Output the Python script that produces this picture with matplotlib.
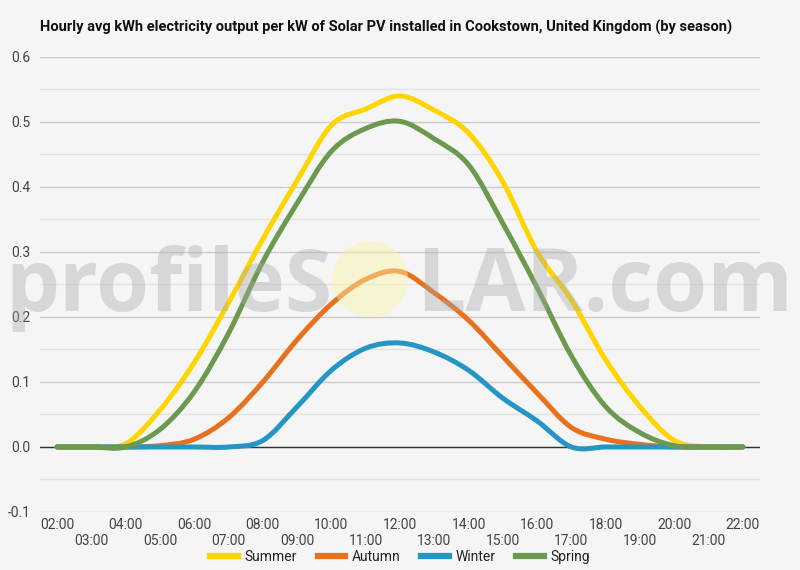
import numpy as np
import matplotlib
matplotlib.use('Agg')
import matplotlib.pyplot as plt
from matplotlib.path import Path
from matplotlib.patches import PathPatch, Ellipse
from matplotlib.lines import Line2D

hours = ['%02d:00' % h for h in range(2, 23)]
summer = [0, 0, 0.005, 0.057, 0.13, 0.222, 0.32, 0.41, 0.495, 0.52, 0.54,
          0.518, 0.483, 0.408, 0.30, 0.226, 0.134, 0.062, 0.01, 0, 0]
autumn = [0, 0, 0, 0.002, 0.012, 0.045, 0.10, 0.165, 0.22, 0.258, 0.27,
          0.237, 0.195, 0.139, 0.083, 0.03, 0.012, 0.004, 0, 0, 0]
winter = [0, 0, 0, 0, 0, 0, 0.01, 0.062, 0.118, 0.152, 0.16,
          0.146, 0.118, 0.075, 0.04, 0, 0, 0, 0, 0, 0]
spring = [0, 0, 0, 0.027, 0.085, 0.175, 0.285, 0.375, 0.455, 0.49, 0.501,
          0.474, 0.434, 0.344, 0.245, 0.14, 0.062, 0.022, 0.002, 0, 0]
series = [('Summer', summer, '#ffd500'), ('Autumn', autumn, '#e8711e'),
          ('Winter', winter, '#2496c6'), ('Spring', spring, '#6b9a4f')]

plt.rcParams['font.family'] = ['Roboto', 'DejaVu Sans']
bg = '#f5f5f5'


def smooth_path(x, y):
    # catmull-rom curve through the points, as a bezier path
    p = np.column_stack([x, y]).astype(float)
    n = len(p)
    verts = [p[0]]
    codes = [Path.MOVETO]
    for i in range(n - 1):
        p0 = p[max(i - 1, 0)]
        p3 = p[min(i + 2, n - 1)]
        c1 = p[i] + (p[i + 1] - p0) / 6
        c2 = p[i + 1] - (p3 - p[i]) / 6
        verts += [c1, c2, p[i + 1]]
        codes += [Path.CURVE4] * 3
    return Path(verts, codes)


fig = plt.figure(figsize=(8, 5.7), dpi=100, facecolor=bg)
ax = fig.add_axes([0.05, 0.1018, 0.9, 0.7982])
ax.set_facecolor(bg)

x = np.arange(len(hours))
for name, vals, col in series:
    ax.add_patch(PathPatch(smooth_path(x, vals), fill=False, edgecolor=col,
                           lw=3.6, capstyle='round', joinstyle='round', zorder=3))

ax.set_xlim(-0.5, len(hours) - 0.5)
ax.set_ylim(-0.1, 0.6)
ax.set_yticks(np.arange(-0.1, 0.61, 0.1))
ax.set_yticklabels(['%.1f' % v for v in np.arange(-0.1, 0.61, 0.1)])
ax.set_yticks(np.arange(-0.05, 0.6, 0.1), minor=True)
ax.grid(axis='y', which='major', color='#cccccc', lw=1)
ax.grid(axis='y', which='minor', color='#e3e3e3', lw=1)
ax.axhline(0, color='#333333', lw=1, zorder=2)
for s in ax.spines.values():
    s.set_visible(False)

ax.set_xticks(x[::2])
ax.set_xticklabels(hours[::2])
ax.set_xticks(x[1::2], minor=True)
ax.set_xticklabels(hours[1::2], minor=True)
ax.tick_params(axis='x', which='major', length=0, pad=4, labelsize=10, labelcolor='#444444')
ax.tick_params(axis='x', which='minor', length=0, pad=16, labelsize=10, labelcolor='#444444')
ax.tick_params(axis='y', which='both', length=0, pad=7, labelsize=10, labelcolor='#444444')

fig.text(0.05, 0.951, 'Hourly avg kWh electricity output per kW of Solar PV installed in '
         'Cookstown, United Kingdom (by season)', fontsize=10.5, fontweight='bold',
         color='#111111', va='center', ha='left')

# watermark
wm_col = '#a8a8a8'
t1 = fig.text(332 / 800, 1 - 311 / 570, 'profileS', ha='right', va='baseline',
              fontsize=66, color=wm_col, alpha=0.38, family='Open Sans',
              fontweight='bold', zorder=5)
t2 = fig.text(416 / 800, 1 - 311 / 570, 'LAR.com', ha='left', va='baseline',
              fontsize=66, color=wm_col, alpha=0.38, family='Open Sans',
              fontweight='bold', zorder=5)
fig.canvas.draw()
r = fig.canvas.get_renderer()
w1 = t1.get_window_extent(r).width
w2 = t2.get_window_extent(r).width
t1.set_fontsize(66 * 327 / w1)
t2.set_fontsize(66 * 377 / w2)
fig.add_artist(Ellipse((370 / 800, 1 - 279 / 570), 76 / 800, 76 / 570,
                       transform=fig.transFigure, facecolor='#fbf3a8', alpha=0.45,
                       edgecolor='none', zorder=5))

handles = [Line2D([], [], color=c, lw=4.5) for _, _, c in series]
fig.legend(handles, [n for n, _, _ in series], loc='center', bbox_to_anchor=(0.5, 1 - 557 / 570),
           ncol=4, frameon=False, fontsize=10, handlelength=2.0, columnspacing=1.5,
           handletextpad=0.45, labelcolor='#222222')

fig.savefig('out.png', dpi=100, facecolor=bg)
